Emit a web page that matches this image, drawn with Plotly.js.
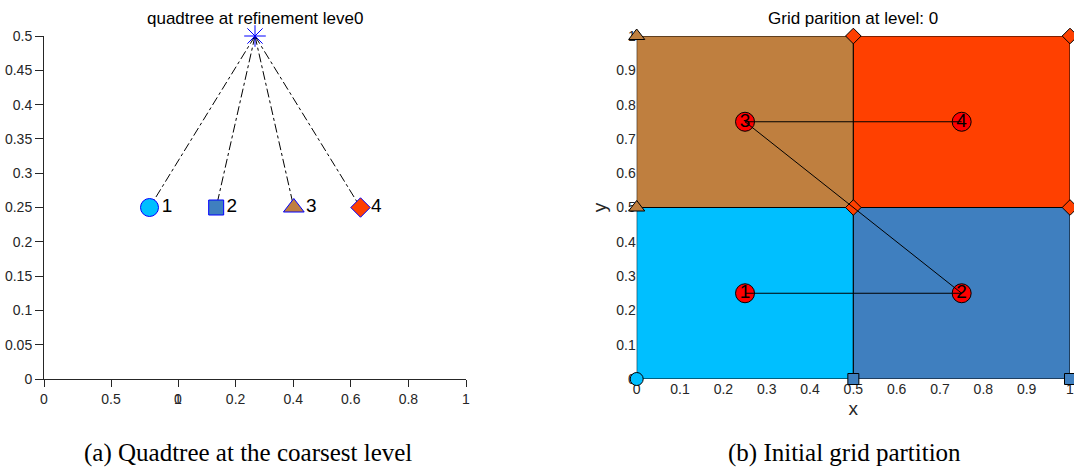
<!DOCTYPE html>
<html>
<head>
<meta charset="utf-8">
<script src="https://cdn.plot.ly/plotly-3.0.1.min.js"></script>
<style>html,body{margin:0;padding:0;background:#fff;}#chart{width:1074px;height:468px;}</style>
</head>
<body>
<div id="chart"></div>
<script>
// ---------- Left panel: quadtree at coarsest level ----------
const parentX = [0.5];
const parentY = [0.5];
const childX = [0.25, 0.408, 0.592, 0.75];
const childY = [0.25, 0.25, 0.25, 0.25];
const childLabels = ['1', '2', '3', '4'];
const cellColors = ['#00BFFF', '#3F7FBF', '#BF7F3F', '#FF4000'];
const childSymbols = ['circle', 'square', 'triangle-up', 'diamond'];

// ---------- Right panel: initial grid partition ----------
const cellX0 = [0, 0.5, 0, 0.5];
const cellY0 = [0, 0, 0.5, 0.5];
const cellSize = [0.5, 0.5, 0.5, 0.5];
const centerX = [0.25, 0.75, 0.25, 0.75];
const centerY = [0.25, 0.25, 0.75, 0.75];
const centerLabels = ['1', '2', '3', '4'];
// corner markers (x, y, owning cell index)
const cornerX = [0, 0.5, 1, 0, 0, 0.5, 0.5, 1, 1];
const cornerY = [0, 0, 0, 0.5, 1, 0.5, 1, 0.5, 1];
const cornerCell = [0, 1, 1, 2, 2, 3, 3, 3, 3];

const FAM = 'Liberation Sans, Arial, Helvetica, sans-serif';
const tickFont = {family: FAM, size: 14, color: '#262626'};
const traces = [];

// empty traces so the two overlaid bottom axes of the left panel get drawn
traces.push({type: 'scatter', mode: 'markers', x: [], y: [], xaxis: 'x3', yaxis: 'y', hoverinfo: 'skip'});
traces.push({type: 'scatter', mode: 'markers', x: [], y: [], xaxis: 'x4', yaxis: 'y', hoverinfo: 'skip'});

// dash-dot links parent -> children
const lx = [], ly = [];
childX.forEach((x, i) => { lx.push(parentX[0], x, null); ly.push(parentY[0], childY[i], null); });
traces.push({type: 'scatter', mode: 'lines', x: lx, y: ly, xaxis: 'x', yaxis: 'y',
  line: {color: '#000', width: 1, dash: 'dashdot'}, hoverinfo: 'skip', cliponaxis: false});
traces.push({type: 'scatter', mode: 'markers', x: parentX, y: parentY, xaxis: 'x', yaxis: 'y',
  marker: {symbol: 'asterisk-open', size: 18, color: '#0000FF', opacity: 1, line: {color: '#0000FF', width: 1}}, cliponaxis: false});
traces.push({type: 'scatter', mode: 'markers+text', x: childX, y: childY, xaxis: 'x', yaxis: 'y',
  text: childLabels, textposition: 'middle right',
  textfont: {family: FAM, size: 19, color: '#000'},
  marker: {symbol: childSymbols, size: [18, 15, 18, 15], color: cellColors, opacity: 1, line: {color: '#0000FF', width: 1}},
  cliponaxis: false});

// right panel cells
cellX0.forEach((x0, i) => {
  const s = cellSize[i], y0 = cellY0[i];
  traces.push({type: 'scatter', mode: 'lines', fill: 'toself', fillcolor: cellColors[i],
    x: [x0, x0 + s, x0 + s, x0, x0], y: [y0, y0, y0 + s, y0 + s, y0],
    xaxis: 'x2', yaxis: 'y2', line: {color: '#000', width: 1}, hoverinfo: 'skip', cliponaxis: false});
});
// corner markers
traces.push({type: 'scatter', mode: 'markers', x: cornerX, y: cornerY, xaxis: 'x2', yaxis: 'y2',
  marker: {symbol: cornerCell.map(c => childSymbols[c]), size: cornerCell.map(c => [13, 11, 14, 12][c]),
    color: cornerCell.map(c => cellColors[c]), opacity: 1, line: {color: '#000', width: 1}}, cliponaxis: false});
// centers with Z-order curve
traces.push({type: 'scatter', mode: 'markers', x: centerX, y: centerY, xaxis: 'x2', yaxis: 'y2',
  marker: {symbol: 'circle', size: 19, color: '#FF0000', opacity: 1, line: {color: '#000', width: 1}}, cliponaxis: false});
traces.push({type: 'scatter', mode: 'lines+text', x: centerX, y: centerY, xaxis: 'x2', yaxis: 'y2',
  text: centerLabels, textposition: 'middle center',
  textfont: {family: FAM, size: 19, color: '#000'},
  line: {color: '#000', width: 1}, cliponaxis: false});

const yDom = [89 / 468, 432 / 468];
const baseAx = {showgrid: false, zeroline: false, tickfont: tickFont, fixedrange: true, ticklabeloverflow: 'allow'};

const layout = {
  width: 1074, height: 468, margin: {l: 0, r: 0, t: 0, b: 0},
  paper_bgcolor: '#fff', plot_bgcolor: 'rgba(0,0,0,0)', showlegend: false,
  font: {family: FAM, color: '#000'},
  xaxis: Object.assign({}, baseAx, {domain: [44 / 1074, 466 / 1074], range: [0, 1], visible: false, anchor: 'y'}),
  yaxis: Object.assign({}, baseAx, {domain: yDom, range: [0, 0.5], dtick: 0.05, anchor: 'x',
    showline: true, linecolor: '#262626', linewidth: 1, ticks: 'outside', ticklen: 8, tickcolor: '#262626'}),
  xaxis3: Object.assign({}, baseAx, {domain: [44 / 1074, 178 / 1074], range: [0, 1], dtick: 0.5, anchor: 'y',
    showline: true, linecolor: '#262626', ticks: 'outside', ticklen: 7, tickcolor: '#262626'}),
  xaxis4: Object.assign({}, baseAx, {domain: [178 / 1074, 466 / 1074], range: [0, 1], dtick: 0.2, anchor: 'y',
    showline: true, linecolor: '#262626', ticks: 'outside', ticklen: 7, tickcolor: '#262626'}),
  xaxis2: Object.assign({}, baseAx, {domain: [636.7 / 1074, 1070 / 1074], range: [0, 1], dtick: 0.1, anchor: 'y2',
    ticks: '', showline: false, layer: 'below traces',
    title: {text: 'x', font: {size: 19, color: '#262626'}, standoff: 5}}),
  yaxis2: Object.assign({}, baseAx, {domain: yDom, range: [0, 1], dtick: 0.1, anchor: 'x2',
    ticks: '', showline: false, layer: 'below traces',
    title: {text: 'y', font: {size: 19, color: '#262626'}, standoff: 4}}),
  annotations: [
    {text: 'quadtree at refinement leve0', xref: 'paper', yref: 'paper', x: 255 / 1074, y: 1 - 19 / 468,
      xanchor: 'center', yanchor: 'middle', showarrow: false, font: {size: 17, color: '#000'}},
    {text: 'Grid parition at level: 0', xref: 'paper', yref: 'paper', x: 853 / 1074, y: 1 - 19 / 468,
      xanchor: 'center', yanchor: 'middle', showarrow: false, font: {size: 17, color: '#000'}},
    {text: '(a) Quadtree at the coarsest level', xref: 'paper', yref: 'paper', x: 248 / 1074, y: 0,
      xanchor: 'center', yanchor: 'bottom', showarrow: false, borderpad: 0,
      font: {family: 'Liberation Serif, Times New Roman, serif', size: 25, color: '#000'}},
    {text: '(b) Initial grid partition', xref: 'paper', yref: 'paper', x: 844 / 1074, y: 0,
      xanchor: 'center', yanchor: 'bottom', showarrow: false, borderpad: 0,
      font: {family: 'Liberation Serif, Times New Roman, serif', size: 25, color: '#000'}}
  ]
};

Plotly.newPlot('chart', traces, layout, {staticPlot: true, displayModeBar: false});
</script>
</body>
</html>
